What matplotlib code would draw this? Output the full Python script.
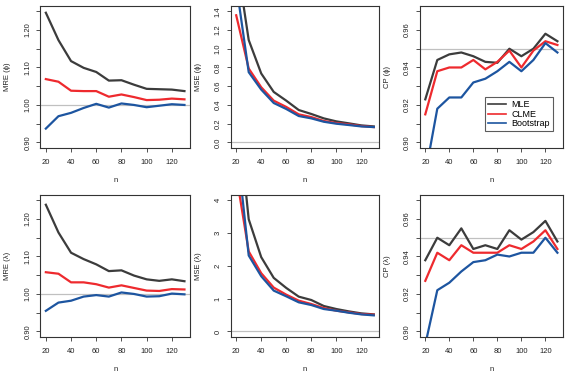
import matplotlib
matplotlib.use("Agg")
import matplotlib.pyplot as plt

plt.rcParams['font.family'] = ['Liberation Sans', 'DejaVu Sans']

n = [20, 30, 40, 50, 60, 70, 80, 90, 100, 110, 120, 130]

mre_phi_mle = [1.246, 1.173, 1.117, 1.099, 1.088, 1.065, 1.066, 1.054, 1.043, 1.042, 1.041, 1.037]
mre_phi_clme = [1.069, 1.062, 1.038, 1.037, 1.037, 1.022, 1.028, 1.021, 1.013, 1.014, 1.017, 1.015]
mre_phi_boot = [0.937, 0.970, 0.979, 0.992, 1.003, 0.993, 1.004, 1.000, 0.994, 0.998, 1.002, 1.000]

mse_phi_mle = [1.98, 1.093, 0.736, 0.539, 0.446, 0.346, 0.304, 0.257, 0.225, 0.204, 0.182, 0.171]
mse_phi_clme = [1.357, 0.789, 0.589, 0.446, 0.379, 0.300, 0.271, 0.229, 0.207, 0.193, 0.175, 0.164]
mse_phi_boot = [1.69, 0.750, 0.564, 0.421, 0.357, 0.282, 0.257, 0.221, 0.200, 0.186, 0.171, 0.164]

cp_phi_mle = [0.923, 0.944, 0.947, 0.948, 0.946, 0.943, 0.9425, 0.950, 0.946, 0.950, 0.958, 0.954]
cp_phi_clme = [0.915, 0.938, 0.940, 0.940, 0.944, 0.939, 0.943, 0.949, 0.940, 0.949, 0.954, 0.952]
cp_phi_boot = [0.883, 0.918, 0.924, 0.924, 0.932, 0.934, 0.938, 0.943, 0.938, 0.944, 0.953, 0.948]

mre_lam_mle = [1.238, 1.164, 1.110, 1.093, 1.079, 1.061, 1.063, 1.049, 1.039, 1.035, 1.039, 1.034]
mre_lam_clme = [1.058, 1.054, 1.031, 1.031, 1.026, 1.017, 1.023, 1.016, 1.009, 1.008, 1.013, 1.012]
mre_lam_boot = [0.955, 0.977, 0.982, 0.993, 0.997, 0.993, 1.004, 1.000, 0.993, 0.994, 1.001, 0.999]

mse_lam_mle = [7.1, 3.42, 2.265, 1.633, 1.327, 1.061, 0.959, 0.776, 0.684, 0.612, 0.551, 0.520]
mse_lam_clme = [4.79, 2.44, 1.776, 1.337, 1.122, 0.939, 0.837, 0.714, 0.633, 0.582, 0.531, 0.510]
mse_lam_boot = [5.85, 2.316, 1.684, 1.245, 1.071, 0.888, 0.806, 0.684, 0.633, 0.571, 0.520, 0.490]

cp_lam_mle = [0.938, 0.950, 0.946, 0.955, 0.944, 0.946, 0.944, 0.954, 0.949, 0.953, 0.959, 0.948]
cp_lam_clme = [0.927, 0.942, 0.938, 0.946, 0.942, 0.942, 0.942, 0.946, 0.944, 0.948, 0.954, 0.944]
cp_lam_boot = [0.893, 0.922, 0.926, 0.932, 0.937, 0.938, 0.941, 0.940, 0.942, 0.942, 0.950, 0.942]

method_names = ["MLE", "CLME", "Bootstrap"]
colors = ["#3c3c3c", "#ee2a2e", "#1d55a0"]

W, H = 570, 377
fig = plt.figure(figsize=(W / 100, H / 100), dpi=100)

col_x = [(40.3, 190.0), (230.7, 379.3), (420.0, 562.7)]
row_y = [(6.0, 147.7), (195.0, 336.7)]


def pct(lo, hi):
    r = hi - lo
    return lo - 0.04 * r, hi + 0.04 * r


panels = [
    (0, 0, [mre_phi_mle, mre_phi_clme, mre_phi_boot], "MRE (\u03d5)", (0.90, 1.25), 1.0,
     [0.90, 0.95, 1.00, 1.05, 1.10, 1.15, 1.20, 1.25], ["0.90", "", "1.00", "", "1.10", "", "1.20", ""]),
    (0, 1, [mse_phi_mle, mse_phi_clme, mse_phi_boot], "MSE (\u03d5)", (0.0, 1.4), 0.0,
     [0.0, 0.2, 0.4, 0.6, 0.8, 1.0, 1.2, 1.4], ["0.0", "0.2", "0.4", "0.6", "0.8", "1.0", "1.2", "1.4"]),
    (0, 2, [cp_phi_mle, cp_phi_clme, cp_phi_boot], "CP (\u03d5)", (0.90, 0.97), 0.95,
     [0.90, 0.91, 0.92, 0.93, 0.94, 0.95, 0.96, 0.97], ["0.90", "", "0.92", "", "0.94", "", "0.96", ""]),
    (1, 0, [mre_lam_mle, mre_lam_clme, mre_lam_boot], "MRE (\u03bb)", (0.90, 1.25), 1.0,
     [0.90, 0.95, 1.00, 1.05, 1.10, 1.15, 1.20, 1.25], ["0.90", "", "1.00", "", "1.10", "", "1.20", ""]),
    (1, 1, [mse_lam_mle, mse_lam_clme, mse_lam_boot], "MSE (\u03bb)", (0.0, 4.0), 0.0,
     [0, 1, 2, 3, 4], ["0", "1", "2", "3", "4"]),
    (1, 2, [cp_lam_mle, cp_lam_clme, cp_lam_boot], "CP (\u03bb)", (0.90, 0.97), 0.95,
     [0.90, 0.91, 0.92, 0.93, 0.94, 0.95, 0.96, 0.97], ["0.90", "", "0.92", "", "0.94", "", "0.96", ""]),
]

tick_fs = 5.5
for (r, c, series, ylab, ylim, refval, yt, ytl) in panels:
    x0, x1 = col_x[c]
    y0, y1 = row_y[r]
    ax = fig.add_axes([x0 / W, (H - y1) / H, (x1 - x0) / W, (y1 - y0) / H])
    ax.axhline(refval, color="#c0c0c0", lw=0.9, zorder=1)
    for s, col, name in zip(series, colors, method_names):
        ax.plot(n, s, color=col, lw=1.6, label=name, zorder=2)
    ax.set_xlim(*pct(20, 130))
    ax.set_ylim(*pct(*ylim))
    ax.set_xticks([20, 40, 60, 80, 100, 120])
    ax.set_yticks(yt)
    ax.set_yticklabels(ytl)
    for sp in ax.spines.values():
        sp.set_color("#333333")
        sp.set_linewidth(0.8)
    ax.tick_params(axis="both", direction="out", length=3, width=0.6, color="#333333",
                   labelsize=tick_fs, labelcolor="#222222")
    ax.tick_params(axis="x", pad=5)
    ax.tick_params(axis="y", pad=3.5, labelrotation=90)
    for lab in ax.get_yticklabels():
        lab.set_verticalalignment("center")
    ax.set_xlabel("n", fontsize=tick_fs, color="#222222", va="center")
    ax.set_ylabel(ylab, fontsize=tick_fs, color="#222222", va="center")
    ax.xaxis.set_label_coords(0.5, -32.5 / (y1 - y0))
    ax.yaxis.set_label_coords(-32.5 / (x1 - x0), 0.5)
    if r == 0 and c == 2:
        leg = ax.legend(loc="upper left", bbox_to_anchor=(0.455, 0.356), fontsize=6.5,
                        frameon=True, fancybox=False, handlelength=1.95, handletextpad=0.6,
                        borderpad=0.35, labelspacing=0.05, borderaxespad=0)
        leg.get_frame().set_edgecolor("#333333")
        leg.get_frame().set_linewidth(0.8)
        for line in leg.get_lines():
            line.set_linewidth(1.2)

fig.savefig("out.png", dpi=100)
